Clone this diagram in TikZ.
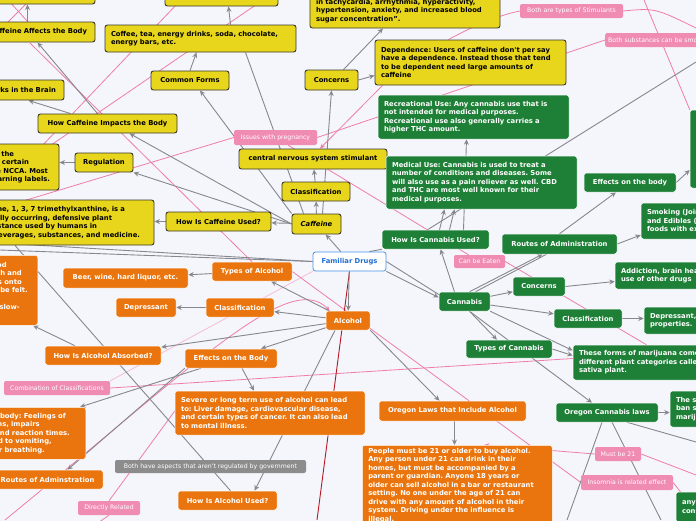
\documentclass[tikz,border=0pt]{standalone}
\usepackage{fontspec}
\newfontfamily\nf{DejaVu Sans}
\usetikzlibrary{arrows.meta,calc}
\frenchspacing
\definecolor{bgc}{RGB}{244,246,252}
\definecolor{cafY}{RGB}{232,214,28}
\definecolor{cafB}{RGB}{55,55,45}
\definecolor{canG}{RGB}{30,128,55}
\definecolor{alcO}{RGB}{234,117,14}
\definecolor{pinkL}{RGB}{240,140,178}
\definecolor{pinkR}{RGB}{240,125,168}
\definecolor{pinkS}{RGB}{248,188,208}
\definecolor{grayL}{RGB}{140,140,140}
\definecolor{connG}{RGB}{135,135,142}
\definecolor{fdB}{RGB}{70,145,230}
\definecolor{fdT}{RGB}{30,110,210}
\definecolor{redL}{RGB}{180,25,35}
\newcommand\ndfont{\nf\bfseries\fontsize{6.8}{8.5}\selectfont}
\newcommand\lbfont{\nf\fontsize{6.2}{7}\selectfont}
\newcommand\padr[1]{\rule{#1pt}{0pt}}
\pgfdeclarelayer{back}
\pgfsetlayers{back,main}
\tikzset{
 sz/.style 2 args={minimum width=#1, minimum height=#2},
 ml/.style={align=left, text width=#1, inner xsep=6pt},
 mr/.style={align=right, text width=#1},
 nbox/.style={rounded corners=2.5pt, inner xsep=5pt, inner ysep=2pt, font=\ndfont, align=center},
 yel/.style={nbox, fill=cafY, draw=cafB, line width=0.9pt, text=black},
 grn/.style={nbox, fill=canG, draw=white, line width=0.5pt, text=white},
 org/.style={nbox, fill=alcO, draw=white, line width=0.5pt, text=white},
 fdn/.style={nbox, fill=white, draw=fdB, line width=0.8pt, text=fdT},
 plab/.style={rounded corners=2pt, fill=pinkL, text=white, font=\lbfont, inner xsep=3pt, inner ysep=1.5pt, align=center},
 glab/.style={plab, fill=grayL},
 conn/.style={draw=connG, line width=0.9pt, -{Stealth[length=5.5pt,width=5pt]}},
 plainc/.style={draw=connG, line width=0.9pt},
 rel/.style={draw=pinkR, line width=0.8pt},
 rellight/.style={draw=pinkS, line width=0.8pt},
 redln/.style={draw=redL, line width=0.9pt},
}
\begin{document}
\begin{tikzpicture}[x=1pt,y=-1pt]
\useasboundingbox (0,0) rectangle (696,520);
% ---------- caffeine (yellow)
\node[yel, sz={155}{24}] (topL) at (17.5,-8) {};
\node[yel, sz={113}{26}] (top2) at (221.5,-7) {};
\node[yel, ml=178, sz={190}{34}] (tachy) at (405,11) {in tachycardia, arrhythmia, hyperactivity,\\hypertension, anxiety, and increased blood\\sugar concentration”.};
\node[yel, mr=125, sz={135}{20}] (affects) at (27.5,32) {How Caffeine Affects the Body\padr{3}};
\node[yel, ml=179, sz={191}{27}] (coffee) at (200.5,38.5) {Coffee, tea, energy drinks, soda, chocolate,\\energy bars, etc.};
\node[yel, sz={78}{19}] (commonF) at (190,80.5) {Common Forms};
\node[yel, sz={53}{20}] (concernsC) at (331.5,80) {Concerns};
\node[yel, ml=179, sz={191}{45}] (depend) at (470.5,62.5) {Dependence: Users of caffeine don't per say\\have a dependence. Instead those that tend\\to be dependent need large amounts of\\caffeine};
\node[yel, mr=141, sz={151}{20}] (works) at (-11.5,90) {How Caffeine Works in the Brain\padr{3}};
\node[yel, sz={139}{19}] (howCI) at (107.5,123.5) {How Caffeine Impacts the Body};
\node[yel, mr=199, sz={209}{46}] (regbox) at (-45.5,167) {Caffeine is set by the\padr{40}\\FDA and is banned at certain\padr{25}\\doses in sports by the NCCA. Most\padr{6}\\products carry warning labels.\padr{4}};
\node[yel, sz={58}{19}] (regulation) at (104,162.5) {Regulation};
\node[yel, sz={148}{20}] (cns) at (313,159) {central nervous system stimulant};
\node[yel, sz={68}{19}] (classC) at (316,191.5) {Classification};
\node[yel, sz={105}{19}] (howCU) at (218.5,221.5) {How Is Caffeine Used?};
\node[yel, sz={49}{20}, font={\ndfont\itshape}] (caff) at (316.5,224) {Caffeine};
\node[yel, mr=244, sz={254}{45}] (caffdef) at (27,222.5) {Caffeine, 1, 3, 7 trimethylxanthine, is a\padr{24}\\naturally occurring, defensive plant\padr{37}\\substance used by humans in\padr{52}\\many beverages, substances, and medicine.\padr{9}};
% ---------- cannabis (green)
\node[grn, ml=179, sz={191}{44}] (recr) at (473.5,117) {Recreational Use: Any cannabis use that is\\not intended for medical purposes.\\Recreational use also generally carries a\\higher THC amount.};
\node[grn, ml=179, sz={191}{53}] (medical) at (481.5,182.5) {Medical Use: Cannabis is used to treat a\\number of conditions and diseases. Some\\will also use as a pain reliever as well. CBD\\and THC are most well known for their\\medical purposes.};
\node[grn, sz={70}{78}] (rightG) at (725,149) {};
\node[grn, sz={92}{19}] (effB) at (630,182.5) {Effects on the body};
\node[grn, sz={107}{19}] (howCaU) at (435.5,239.5) {How Is Cannabis Used?};
\node[grn, sz={115}{20}] (routesCa) at (559.5,244) {Routes of Administration};
\node[grn, ml=147, sz={159}{36}] (smoking) at (720.5,221) {Smoking (Joints, Pipes, Bongs)\\and Edibles (baked goods and\\foods with extracts)};
\node[grn, sz={51}{19}] (cann) at (464.5,301.5) {Cannabis};
\node[grn, sz={52}{19}] (concernsCa) at (539,286.5) {Concerns};
\node[grn, ml=153, sz={165}{27}] (addiction) at (697.5,275.5) {Addiction, brain health, and\\use of other drugs};
\node[grn, sz={68}{19}] (classCa) at (588,318.5) {Classification};
\node[grn, ml=194, sz={206}{27}] (deprCa) at (747,320.5) {Depressant, stimulant and hallucinogen\\properties.};
\node[grn, sz={86}{18}] (typesCa) at (509,349) {Types of Cannabis};
\node[grn, ml=215, sz={227}{35}] (these) at (686.5,362.5) {These forms of marijuana come from two\\different plant categories called the indica and\\sativa plant.};
\node[grn, sz={102}{19}] (oregonCa) at (607,412.5) {Oregon Cannabis laws};
\node[grn, ml=98, sz={110}{36}] (theBan) at (725,409) {The state does not\\ban selling\\marijuana};
\node[grn, ml=112, sz={124}{30}] (anyCon) at (738,507) {anyone under 21\\consuming};
% ---------- centre and alcohol (orange)
\node[fdn, sz={73}{19}] (fd) at (349.5,261.5) {Familiar Drugs};
\node[org, sz={80}{19}] (typesA) at (252,271.5) {Types of Alcohol};
\node[org, sz={125}{20}] (beer) at (125.5,278) {Beer, wine, hard liquor, etc.};
\node[org, sz={68}{19}] (classA) at (240,307.5) {Classification};
\node[org, sz={60}{19}] (deprA) at (146,307.5) {Depressant};
\node[org, sz={44}{19}] (alc) at (348,320.5) {Alcohol};
\node[org, mr=250, anchor=north east, minimum height=70] (absbox) at (38,255) {Alcohol is absorbed into the blood\padr{26}\\stream through the stomach and\padr{11}\\small intestine. From there it moves onto\padr{11}\\the brain, where the effects can be felt.\padr{5}\\~\\Food in the stomach makes it slow-\padr{13}\\~};
\node[org, sz={116}{19}] (howAA) at (103,355.5) {How Is Alcohol Absorbed?};
\node[org, sz={92}{19}] (effA) at (231,358.5) {Effects on the Body};
\node[org, mr=260, anchor=north east, minimum height=52] (bodybox) at (86,407) {Immediate effects on the body: Feelings of\padr{15}\\relaxation, lowered inhibitions, impairs\padr{41}\\coordination, judgment, and reaction times.\padr{11}\\Drinking too much can lead to vomiting,\padr{29}\\unconsciousness, and slower breathing.\padr{36}};
\node[org, ml=178, sz={190}{44}] (severe) at (270,413) {Severe or long term use of alcohol can lead\\to: Liver damage, cardiovascular disease,\\and certain types of cancer. It can also lead\\to mental illness.};
\node[org, sz={111}{19}] (routesA) at (47.5,479.5) {Routes of Adminstration};
\node[org, sz={99}{19}] (howAU) at (227.5,500.5) {How Is Alcohol Used?};
\node[org, sz={147}{20}] (oregonA) at (452.5,411) {Oregon Laws that Include Alcohol};
\node[org, ml=178, anchor=north west, minimum height=80] (people) at (362,445) {People must be 21 or older to buy alcohol.\\Any person under 21 can drink in their\\homes, but must be accompanied by a\\parent or guardian. Anyone 18 years or\\older can sell alcohol in a bar or restaurant\\setting. No one under the age of 21 can\\drive with any amount of alcohol in their\\system. Driving under the influence is\\illegal.};
% ---------- relation labels
\node[plab, sz={83}{15}] (preg) at (275.5,137.5) {Issues with pregnancy};
\node[plab, sz={103}{14}] (stim) at (571.5,11) {Both are types of Stimulants};
\node[plab, anchor=west, minimum height=14] (smk) at (605,40) {Both substances can be smoked};
\node[plab, sz={51}{13}] (eaten) at (479.5,261.5) {Can be Eaten};
\node[plab, sz={106}{14}] (combo) at (57,388) {Combination of Classifications};
\node[glab, sz={191}{13}] (govt) at (210.5,466.5) {Both have aspects that aren't regulated by government};
\node[plab, sz={62}{14}] (direct) at (109,508) {Directly Related};
\node[plab, sz={46}{14}] (must21) at (618,454) {Must be 21};
\node[plab, sz={92}{15}] (insom) at (627,482.5) {Insomnia is related effect};
% ---------- free ends
\coordinate (t1a) at (8,0); \coordinate (t1b) at (28,22);
\coordinate (t2a) at (30,0); \coordinate (t2b) at (4,26);
\coordinate (p2a) at (177,4); \coordinate (p2b) at (40,148);
\coordinate (p3a) at (0,180); \coordinate (p3b) at (263,0);
\coordinate (p4a) at (30,43);
\coordinate (p5a) at (0,208);
\coordinate (p6) at (696,28);
\coordinate (p7) at (644,0);
\coordinate (p8) at (5,520);
\coordinate (p9) at (95,525);
\coordinate (p10) at (696,512);
\coordinate (p11) at (696,475);
\coordinate (redEnd) at (317,520);
\coordinate (fl1) at (0,243); \coordinate (fl2) at (0,250);
\coordinate (tr1) at (696,62);
\coordinate (ob1) at (567,520); \coordinate (ob2) at (661,520); \coordinate (ob3) at (696,442);
\begin{pgfonlayer}{back}
\fill[bgc] (-200,-100) rectangle (900,600);
% pink relations
\draw[rel] (t1a) -- (t1b);
\draw[rel] (t2a) -- (t2b);
\draw[rel] (p2a) -- (p2b);
\draw[rel] (p3a) -- (p3b);
\draw[rel] (p4a) -- (typesA.north);
\draw[rel] (p5a) -- (preg.west);
\draw[rel] (preg.east) -- (smk.west);
\draw[rel] (preg) -- (eaten);
\draw[rel] (eaten.east) -- ([xshift=-40]these.north);
\draw[rel,-{Stealth[length=5pt,width=4.5pt]}] ([xshift=8]depend.south west) -- ([xshift=7]cns.north);
\draw[rel] (stim.west) .. controls (495,16) and (470,28) .. ([xshift=-22]depend.north);
\draw[rel] (stim.east) .. controls (655,8) .. (p6);
\draw[rel] (p7) -- (rightG.north west);
\draw[rel] (combo.east) -- ([yshift=4]these.west);
\draw[rellight] (combo.north east) -- (fd.south west);
\draw[rel,-{Stealth[length=5pt,width=4.5pt]}] (p8) .. controls (200,360) and (290,270) .. ([xshift=4]alc.north west);
\draw[rel] (p9) -- (direct.south);
\draw[rel] (direct.north) -- ([yshift=2]severe.west);
\draw[rel] (typesA.east) -- (insom.west);
\draw[rel] (insom.east) -- (p10);
\draw[rel,-{Stealth[length=5pt,width=4.5pt]}] (must21.west) -- ([xshift=27]people.north);
\draw[rel] (must21.east) -- (p11);
\draw[redln] (fd.south) -- (redEnd);
% caffeine connectors
\draw[conn] (fd) -- (caff);
\draw[conn] (caff) -- (classC);
\draw[conn] (classC) -- (cns);
\draw[conn] (caff) -- (howCU);
\draw[conn] ([xshift=6]caff.north) -- (concernsC.south);
\draw[conn] (caff.north west) -- ([xshift=10]commonF.south);
\draw[plainc] ([xshift=12]caff.north west) -- ([xshift=45]coffee.south);
\draw[conn] (caff.west) -- (regulation.south east);
\draw[conn] (caff.west) -- ([xshift=22]howCI.south);
\draw[conn] ([xshift=-10]howCI.north) -- ([xshift=10]affects.south);
\draw[conn] ([xshift=-37]howCI.north) -- ([xshift=40]works.south);
\draw[conn] (commonF.north) -- ([xshift=-4]coffee.south);
\draw[conn] ([xshift=12]concernsC.north) -- ([xshift=-22]tachy.south);
\draw[conn] (concernsC.east) -- ([yshift=-13]depend.west);
\draw[conn] (regulation.west) -- (regulation.west -| regbox.east);
\draw[conn] (howCU.west) -- (howCU.west -| caffdef.east);
\draw[conn] (affects.north) -- (affects.north |- topL.south);
\draw[conn] ([xshift=30]coffee.north) -- ([xshift=7]top2.south);
\draw[plainc] (fd.west) -- (fl1);
\draw[plainc] (fd.west) -- (fl2);
\draw[plainc] ([xshift=-12]caffdef.south) -- ([xshift=3]howAU.north);
% alcohol connectors
\draw[conn] (fd) -- (alc);
\draw[conn] (alc) -- (typesA);
\draw[conn] (alc) -- (classA);
\draw[conn] (classA) -- (deprA);
\draw[conn] (typesA) -- (beer);
\draw[conn] (alc) -- (effA);
\draw[conn] (alc) -- (howAA);
\draw[conn] ([xshift=-28]howAA.north) -- ([xshift=-5]absbox.south east);
\draw[conn] ([xshift=11]effA.south) -- ([xshift=-16]severe.north);
\draw[conn] ([xshift=-30]effA.south) -- ([xshift=-6]bodybox.north east);
\draw[conn] ([xshift=-13]alc.south) -- ([xshift=27]howAU.north);
\draw[conn] (effA.south west) -- ([xshift=20]routesA.north);
\draw[conn] (alc.south east) -- ([xshift=-13]oregonA.north);
\draw[conn] ([xshift=2]oregonA.south) -- ([xshift=2]oregonA.south |- people.north);
% cannabis connectors
\draw[conn] (fd.south east) -- ([yshift=4]cann.west);
\draw[plainc] (fd.east) -- ([yshift=7]cann.west);
\draw[plainc] ([xshift=-17]fd.north east) -- (howCaU.south west);
\draw[conn] ([xshift=-10]cann.north) -- ([xshift=5]howCaU.south);
\draw[conn] ([xshift=5]cann.north) -- ([xshift=-17]routesCa.south);
\draw[plainc] ([xshift=11]cann.north) -- ([xshift=-13]routesCa.south);
\draw[conn] (cann) -- (concernsCa);
\draw[conn] (cann) -- (classCa);
\draw[conn] ([xshift=5]cann.south) -- ([xshift=-12]typesCa.north);
\draw[conn] (cann.south east) -- ([yshift=12]these.west);
\draw[conn] (typesCa.east) -- ([yshift=7]these.west);
\draw[conn] ([xshift=5]cann.south) -- ([xshift=-15]oregonCa.north);
\draw[conn] (routesCa.north) -- ([xshift=-14]effB.south);
\draw[conn] (routesCa.east) -- ([yshift=-14]smoking.west);
\draw[conn] (effB.east) -- ([yshift=-21]rightG.west);
\draw[conn] (concernsCa.east) -- ([yshift=-6]addiction.west);
\draw[conn] (classCa.east) -- (classCa.east -| deprCa.west);
\draw[conn] ([xshift=4]howCaU.north) -- ([xshift=-37]medical.south);
\draw[conn] ([xshift=14]howCaU.north) -- ([xshift=-27]medical.south);
\draw[conn] ([xshift=28]howCaU.north) -- ([xshift=-7]recr.south);
\draw[plainc] ([xshift=-8]howCaU.north) -- (tr1);
\draw[conn] (oregonCa.east) -- (oregonCa.east -| theBan.west);
\draw[plainc] ([xshift=-5]oregonCa.south) -- (ob1);
\draw[plainc] ([xshift=5]oregonCa.south) -- (ob2);
\draw[plainc] ([xshift=20]oregonCa.south) -- (ob3);
\end{pgfonlayer}
\end{tikzpicture}
\end{document}
